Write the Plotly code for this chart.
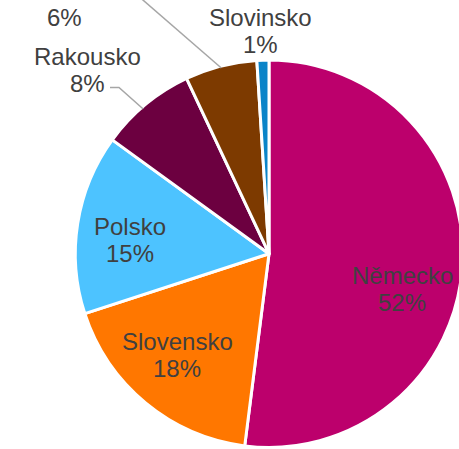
import math
import plotly.graph_objects as go

# ---- data ----
countries = ["Německo", "Slovensko", "Polsko", "Rakousko", "Maďarsko", "Slovinsko"]
shares = [52, 18, 15, 8, 6, 1]

# ---- style ----
colors = ["#BC006C", "#FF7700", "#4DC3FF", "#6C0040", "#7D3A00", "#0A84C8"]
TEXT_COLOR = "#404040"
FONT = "Liberation Sans, Arial, sans-serif"
FONT_SIZE = 24
W, H = 464, 449
CX, CY, R = 269.0, 253.7, 193.7          # pie centre / radius in px
LINE_GAP = 27                             # distance between the two label lines
# label placement relative to slice mid-angle: (radius factor, angle offset in degrees)
label_place = [(0.71, 11.1), (0.708, 2.5), (0.721, -3.4),
               (1.331, -5.0), (1.667, -25.0), (1.151, -0.5)]

total = sum(shares)
mids = []
acc = 0
for v in shares:
    mids.append((acc + v / 2) / total * 360.0)
    acc += v


def polar(theta, rf):
    t = math.radians(theta)
    return CX + R * rf * math.sin(t), CY - R * rf * math.cos(t)


def px2paper(x, y):
    return x / W, 1 - y / H


fig = go.Figure(go.Pie(
    labels=countries,
    values=shares,
    sort=False,
    direction="clockwise",
    rotation=0,
    textinfo="none",
    hoverinfo="label+percent",
    marker=dict(colors=colors, line=dict(color="white", width=3)),
    domain=dict(x=[(CX - R) / W, (CX + R) / W],
                y=[1 - (CY + R) / H, 1 - (CY - R) / H]),
))

annotations = []
label_centres = []
for i, (name, v) in enumerate(zip(countries, shares)):
    rf, da = label_place[i]
    lx, ly = polar(mids[i] + da, rf)
    label_centres.append((lx, ly))
    pct = f"{round(100 * v / total)}%"
    for txt, yy in ((name, ly - LINE_GAP / 2), (pct, ly + LINE_GAP / 2)):
        if yy < 0:
            continue  # this line lies above the visible page (cut off in the original)
        x, y = px2paper(lx, yy)
        annotations.append(dict(
            x=x, y=y, xref="paper", yref="paper", text=txt, showarrow=False,
            xanchor="center", yanchor="middle",
            font=dict(family=FONT, size=FONT_SIZE, color=TEXT_COLOR)))

# leader lines for outside labels
shapes = []
LEADER = dict(color="#A6A6A6", width=1.5)
# Rakousko
ri = countries.index("Rakousko")
lx, ly = label_centres[ri]
p0 = polar(mids[ri] - 1.4, 0.99)
pts = [p0, (lx + 31, ly + 17.3), (lx + 22, ly + 17.3)]
path = "M " + " L ".join(f"{px2paper(*p)[0]},{px2paper(*p)[1]}" for p in pts)
shapes.append(dict(type="path", path=path, xref="paper", yref="paper", line=LEADER))
# Maďarsko
mi = countries.index("Maďarsko")
p0 = polar(mids[mi], 0.99)
p1 = polar(331.4, 1.61)
path = "M " + " L ".join(f"{px2paper(*p)[0]},{px2paper(*p)[1]}" for p in (p0, p1))
shapes.append(dict(type="path", path=path, xref="paper", yref="paper", line=LEADER))

fig.update_layout(
    width=W, height=H,
    margin=dict(l=0, r=0, t=0, b=0),
    showlegend=False,
    paper_bgcolor="white",
    plot_bgcolor="white",
    annotations=annotations,
    shapes=shapes,
)

fig.write_html(
    "out.html",
    config=dict(displayModeBar=False),
    post_script="document.body.style.margin='0';document.body.style.overflow='hidden';"
                "document.documentElement.style.overflow='hidden';",
)
